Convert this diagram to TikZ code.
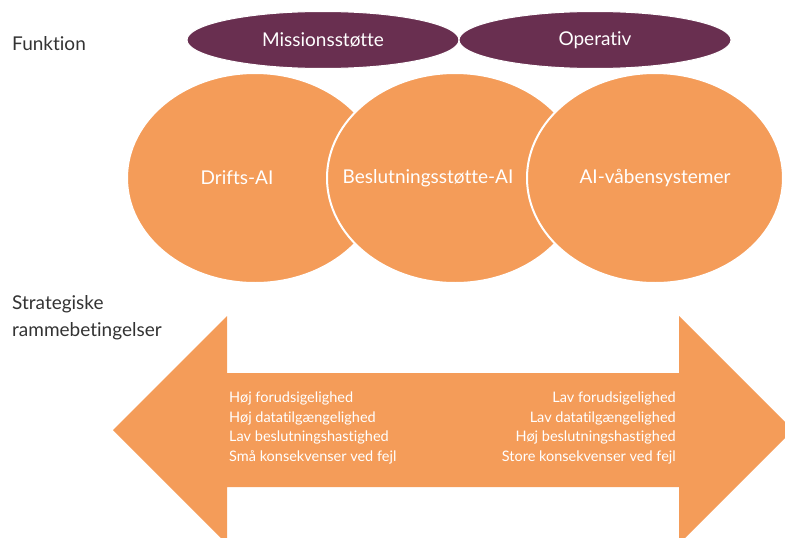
\documentclass[tikz,border=0pt]{standalone}
\usepackage{fontspec}
\setmainfont{Lato}[Ligatures=NoCommon]
\usetikzlibrary{shapes.geometric}
\definecolor{FunkPurple}{HTML}{692F50}
\definecolor{AIOrange}{HTML}{F49C59}
\definecolor{LabelGray}{HTML}{333333}

\begin{document}
\begin{tikzpicture}[x=1pt, y=-1pt,
    funk/.style={ellipse, fill=FunkPurple, draw=white, line width=1pt,
      minimum width=272pt, minimum height=57pt, inner sep=0pt,
      text=white, font=\fontsize{19}{22}\selectfont},
    aicirc/.style={ellipse, fill=AIOrange, draw=white, line width=2pt,
      minimum width=256pt, minimum height=210pt, inner sep=0pt},
    aitext/.style={text=white, font=\fontsize{19}{22}\selectfont},
    frame/.style={anchor=west, align=left, text=LabelGray,
      inner sep=0pt, font=\fontsize{19}{27}\selectfont},
    cond/.style={text=white, inner sep=0pt,
      font=\fontsize{14.5}{19.5}\selectfont}]
    \useasboundingbox (0,0) rectangle (785,538);
    \clip (0,0) rectangle (785,538);

    % labels on the left
    \node[frame] (funktion) at (12,44) {Funktion};
    \node[frame] (strat) at (12,318) {Strategiske\\rammebetingelser};

    % function ellipses
    \node[funk] (mission) at (323,40) {Missionsstøtte};
    \node[funk] (operativ) at (595,40) {Operativ};

    % AI circles
    \node[aicirc] (drifts) at (255,178) {};
    \node[aicirc] (beslut) at (455,178) {};
    \node[aicirc] (vaaben) at (655,178) {};
    \node[aitext] at ([xshift=-18pt]drifts.center) {Drifts-AI};
    \node[aitext] at ([xshift=-27pt]beslut.center) {Beslutningsstøtte-AI};
    \node[aitext] at (vaaben.center) {AI-våbensystemer};

    % double arrow
    \fill[AIOrange] (113,430) -- (227,316) -- (227,373) -- (679,373)
      -- (679,316) -- (793,430) -- (679,544) -- (679,487)
      -- (227,487) -- (227,544) -- cycle;
    \node[cond, anchor=west, align=left] (lavside) at (229,428)
      {Høj forudsigelighed\\Høj datatilgængelighed\\Lav beslutningshastighed\\Små konsekvenser ved fejl};
    \node[cond, anchor=east, align=right] (hoejside) at (676,428)
      {Lav forudsigelighed\\Lav datatilgængelighed\\Høj beslutningshastighed\\Store konsekvenser ved fejl};
\end{tikzpicture}
\end{document}
